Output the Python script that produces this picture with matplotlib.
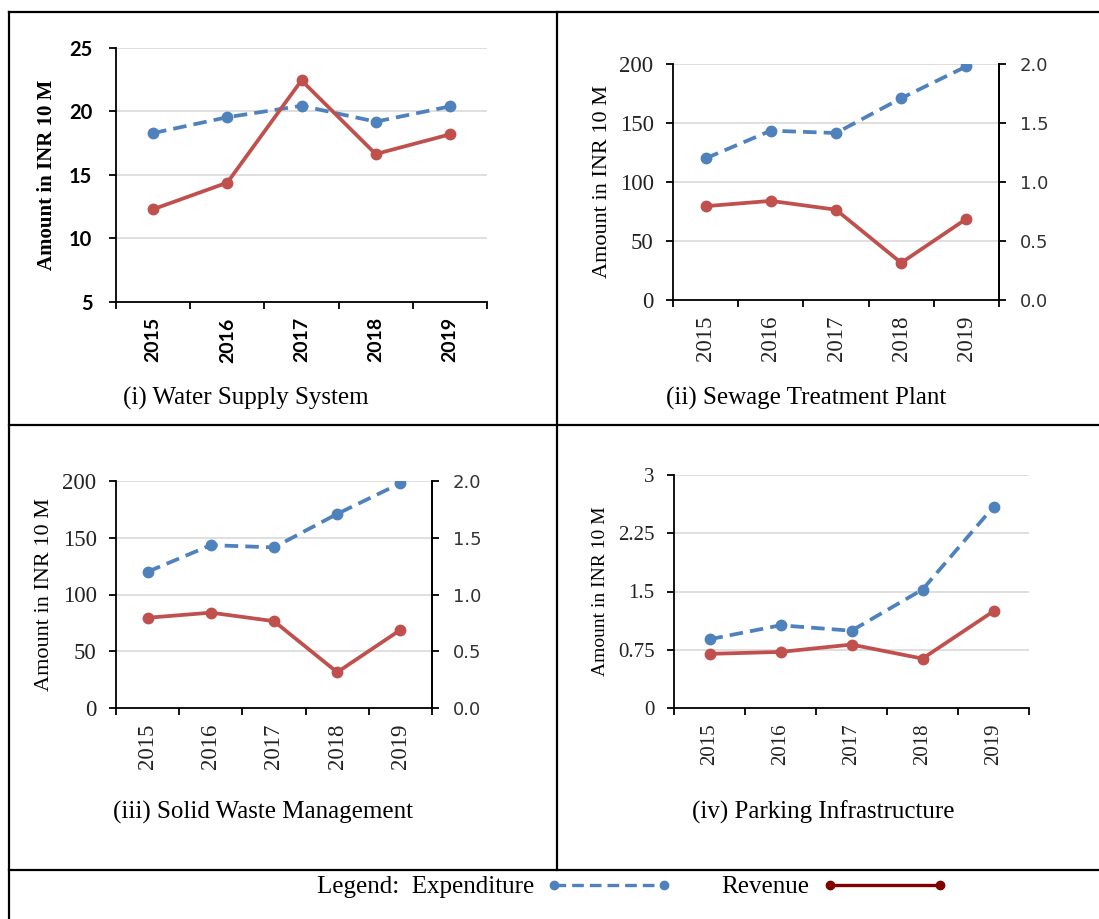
import matplotlib.pyplot as plt
from matplotlib.lines import Line2D

W, H = 1099, 919

years = ['2015', '2016', '2017', '2018', '2019']

water_exp = [18.3, 19.55, 20.45, 19.2, 20.4]
water_rev = [12.3, 14.4, 22.45, 16.65, 18.2]
sewage_exp = [120, 143.5, 141.5, 171, 198]
sewage_rev = [79.5, 84, 76.5, 31.5, 68.8]
waste_exp = [120, 143.5, 141.5, 171, 198]
waste_rev = [79.5, 84, 76.5, 31.5, 68.8]
parking_exp = [0.885, 1.065, 0.995, 1.525, 2.59]
parking_rev = [0.697, 0.722, 0.817, 0.636, 1.246]

captions = ['(i) Water Supply System', '(ii) Sewage Treatment Plant',
            '(iii) Solid Waste Management', '(iv) Parking Infrastructure']

BLUE = '#4F81BD'
RED = '#C0504D'
DARKRED = '#800000'
GRID = '#d9d9d9'
SERIF = 'Liberation Serif'
LW = 2.7
DASH = (0, (3.6, 1.9))

fig = plt.figure(figsize=(W / 100, H / 100), dpi=100)


def px_axes(l, t, r, b):
    return fig.add_axes([l / W, 1 - b / H, (r - l) / W, (b - t) / H])


def hline(x0, x1, y):
    fig.add_artist(Line2D([x0 / W, x1 / W], [1 - y / H, 1 - y / H],
                          transform=fig.transFigure, color='black', lw=1.6))


def vline(x, y0, y1):
    fig.add_artist(Line2D([x / W, x / W], [1 - y0 / H, 1 - y1 / H],
                          transform=fig.transFigure, color='black', lw=1.6))


def setup(ax, exp, rev, ylim, yticks, yticklabels, tickfont, yearfont, label_x,
          label_size, label_weight='normal', ms=7.5):
    x = range(len(years))
    ax.plot(x, exp, color=BLUE, lw=LW, ls=DASH, marker='o', ms=ms, zorder=3)
    ax.plot(x, rev, color=RED, lw=LW, marker='o', ms=ms, zorder=3)
    ax.set_xlim(-0.5, len(years) - 0.5)
    ax.set_ylim(*ylim)
    ax.set_yticks(yticks)
    ax.set_yticklabels(yticklabels, **tickfont)
    ax.set_xticks(list(x))
    ax.set_xticklabels(years, rotation=90, **yearfont)
    ax.set_xticks([i - 0.5 for i in range(len(years) + 1)], minor=True)
    ax.tick_params(axis='x', which='major', length=0, pad=11)
    ax.tick_params(axis='x', which='minor', length=5, width=1.3, direction='out')
    ax.tick_params(axis='y', length=5, width=1.3, direction='out', pad=9)
    for s in ['top', 'right']:
        ax.spines[s].set_visible(False)
    for s in ['left', 'bottom']:
        ax.spines[s].set_linewidth(1.3)
    ax.yaxis.grid(True, color=GRID, lw=1.2)
    ax.set_axisbelow(True)
    ax.text(label_x, 0.5, 'Amount in INR 10 M', transform=ax.transAxes, rotation=90,
            ha='center', va='center', family=SERIF, fontsize=label_size,
            weight=label_weight)


times16 = dict(family=SERIF, fontsize=16.5, color='#222222')

# (i) water supply
ax1 = px_axes(116, 48, 487, 302)
setup(ax1, water_exp, water_rev, (5, 25), [5, 10, 15, 20, 25],
      ['5', '10', '15', '20', '25'],
      dict(family='Lato', fontsize=14.5, weight='bold'),
      dict(family='Lato', fontsize=14, weight='bold'),
      -0.186, 15, 'bold')
ax1.tick_params(axis='y', pad=12)

# (ii) sewage, with secondary axis
ax2 = px_axes(673, 64, 999, 300)
setup(ax2, sewage_exp, sewage_rev, (0, 200), [0, 50, 100, 150, 200],
      ['0', '50', '100', '150', '200'], times16, times16, -0.215, 16)

# (iii) solid waste
ax3 = px_axes(116, 481, 432, 708)
setup(ax3, waste_exp, waste_rev, (0, 200), [0, 50, 100, 150, 200],
      ['0', '50', '100', '150', '200'], times16, times16, -0.225, 16)

for ax in (ax2, ax3):
    ax.spines['right'].set_visible(True)
    ax.spines['right'].set_linewidth(1.3)
    tw = ax.twinx()
    tw.set_ylim(0, 2)
    tw.set_yticks([0, 0.5, 1.0, 1.5, 2.0])
    tw.set_yticklabels(['0.0', '0.5', '1.0', '1.5', '2.0'], family='DejaVu Sans',
                       fontsize=13, color='#333333')
    tw.tick_params(axis='y', length=5, width=1.3, direction='out', pad=10)
    for s in ['top', 'left', 'bottom']:
        tw.spines[s].set_visible(False)
    tw.spines['right'].set_linewidth(1.3)

# (iv) parking
ax4 = px_axes(674, 475, 1029, 708)
setup(ax4, parking_exp, parking_rev, (0, 3), [0, 0.75, 1.5, 2.25, 3],
      ['0', '0.75', '1.5', '2.25', '3'],
      dict(family=SERIF, fontsize=15, color='#222222'),
      dict(family=SERIF, fontsize=15, color='#222222'), -0.206, 14)

# captions
cap_pos = [(246, 398), (806, 398), (263, 812), (823, 812)]
for (cx, cy), txt in zip(cap_pos, captions):
    fig.text(cx / W, 1 - cy / H, txt, ha='center', va='center', family=SERIF,
             fontsize=18)

# table borders
hline(9, W, 12)
hline(9, W, 425)
hline(9, W, 870)
vline(9, 12, H)
vline(557, 12, 870)

# legend row
h_exp = Line2D([], [], color=BLUE, lw=2.4, ls=(0, (3.5, 1.8)), marker='o', ms=6)
h_rev = Line2D([], [], color=DARKRED, lw=2.4, marker='o', ms=6)
fig.legend([h_exp, h_rev], ['Legend:  Expenditure', 'Revenue'], loc='center',
           bbox_to_anchor=(632 / W, 1 - 887 / H), ncol=2, markerfirst=False,
           frameon=False, numpoints=2, handlelength=5, columnspacing=2.0,
           handletextpad=0.5, prop=dict(family=SERIF, size=18))

fig.savefig('out.png', dpi=100)
